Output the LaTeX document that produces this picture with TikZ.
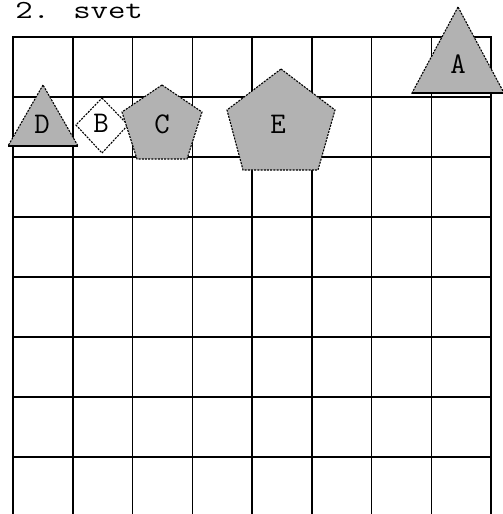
\documentclass[tikz,border=0pt]{standalone}
\begin{document}
\begin{tikzpicture}[x=1pt,y=-1pt,
  gridline/.style={line width=1.5pt, draw=black},
  shapeline/.style={draw=black, line width=1.1pt, dash pattern=on 2pt off 1.2pt, fill=gray!60},
  baseline/.style={draw=black, line width=1.5pt},
  lbl/.style={font=\ttfamily\fontsize{30}{30}\selectfont, inner sep=0pt, anchor=base},
  ttl/.style={font=\ttfamily\fontsize{26}{26}\selectfont, inner sep=0pt, anchor=base west, xscale=1.3}]
\useasboundingbox (0,0) rectangle (503,514);
\clip (0,0) rectangle (503,514);
\fill[white] (0,0) rectangle (503,514);
% grid
\foreach \i in {0,...,8} \draw[gridline] ({13+59.75*\i},37) -- ({13+59.75*\i},515);
\foreach \j in {0,...,7} \draw[gridline] (12.25,{37+60*\j}) -- (491.75,{37+60*\j});
% title
\node[ttl] (title) at (15,19) {2. svet};
% A
\draw[shapeline] (458,7) -- (412,93) -- (504,93) -- cycle;
\draw[baseline] (412,93) -- (504,93);
\node[lbl] (A) at (458,73) {A};
% D
\draw[shapeline] (43,85) -- (8,146) -- (78,146) -- cycle;
\draw[baseline] (8,146) -- (78,146);
\node[lbl] (D) at (42,133) {D};
% B
\draw[shapeline, fill=white] (102,98) -- (128,125) -- (102,153) -- (76,125) -- cycle;
\node[lbl] (B) at (101,132) {B};
% C
\draw[shapeline] (162,85) -- (202,112) -- (187,159) -- (137,159) -- (122,112) -- cycle;
\node[lbl] (C) at (162,133) {C};
% E
\draw[shapeline] (281,69) -- (335,110) -- (318,170) -- (243,170) -- (227,110) -- cycle;
\node[lbl] (E) at (278,133) {E};
\end{tikzpicture}
\end{document}
